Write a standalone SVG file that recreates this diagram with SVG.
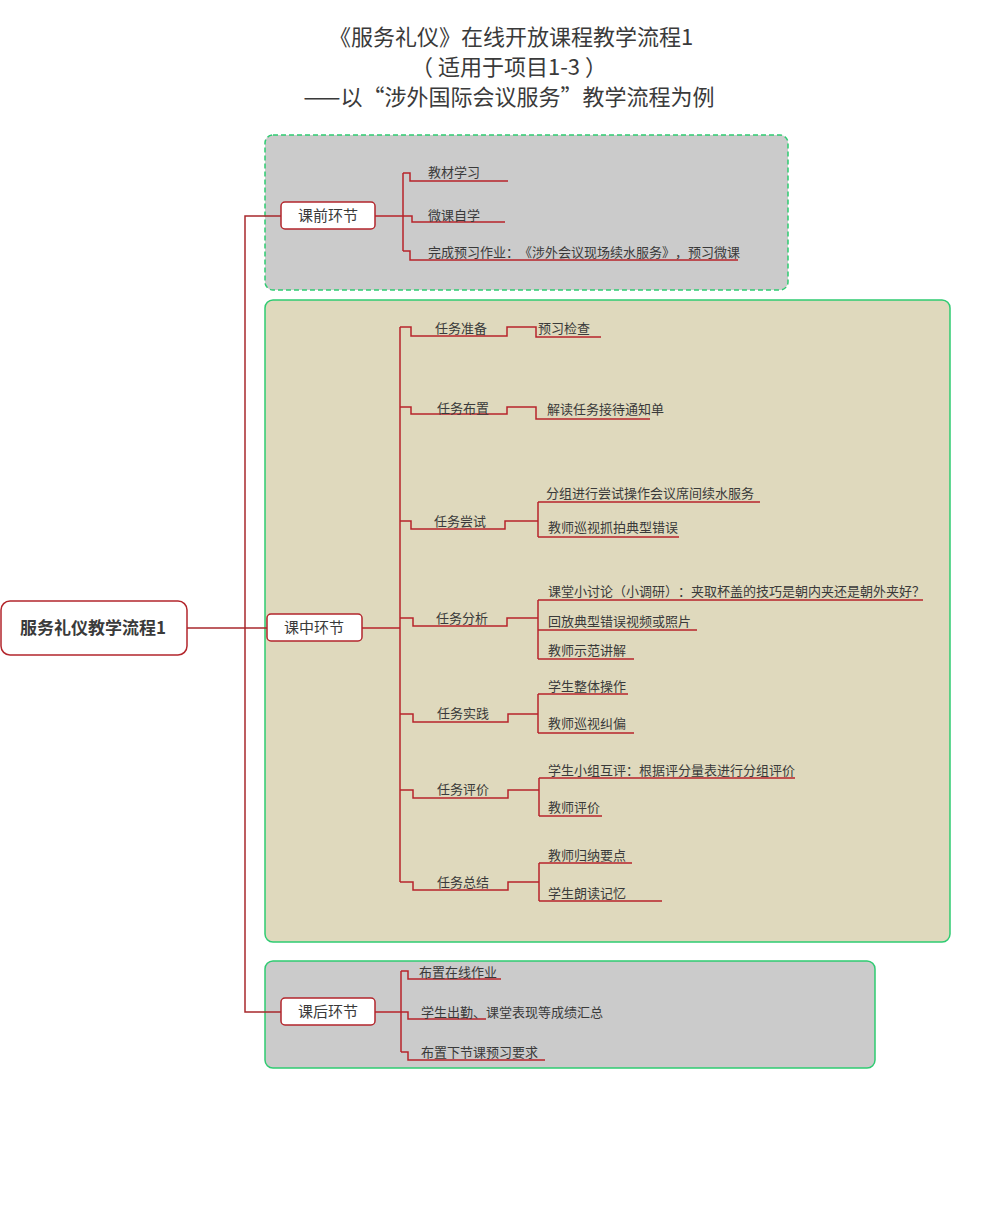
<svg xmlns="http://www.w3.org/2000/svg" width="983" height="1225" viewBox="0 0 983 1225">
<style>
text{font-family:"Noto Sans CJK SC","Microsoft YaHei",sans-serif;fill:#3a3a3a;text-spacing-trim:space-all}
.title{font-size:22px;text-anchor:middle}
.root{font-size:17px;font-weight:bold;text-anchor:middle}
.l1{font-size:15px;text-anchor:middle}
.leaf{font-size:13px}
.node{fill:#fff;stroke:#b3262c;stroke-width:1.5}
.box{stroke:#2fcb72;stroke-width:1.5}
.gray{fill:#cbcbcb}
.beige{fill:#dfd9bd}
.dash{stroke-dasharray:5,3}
.c{fill:none;stroke:#b8242b;stroke-width:1.5}
.t{fill:none;stroke:#a8282c;stroke-width:1.5}
</style>
<rect width="983" height="1225" fill="#fff"/>
<g id="title">
<text class="title" x="511" y="45">《服务礼仪》在线开放课程教学流程1</text>
<text class="title" x="509" y="75">（ 适用于项目1-3 ）</text>
<text class="title" x="509" y="105">——以“涉外国际会议服务”教学流程为例</text>
</g>
<g id="boundaries">
<rect class="box gray dash" x="265" y="135" width="523" height="155" rx="8"/>
<rect class="box beige" x="265" y="300" width="685" height="642" rx="8"/>
<rect class="box gray" x="265" y="961" width="610" height="107" rx="8"/>
</g>
<g id="connectors">
<path class="t" d="M187,628 H267"/>
<path class="t" d="M281,216 H245 V1012 H281"/>
<path class="c" d="M375,216 H403 M403,173 V251 M403,173 H410 V181 H508 M403,216 H412 V222 H505 M403,251 H410 V260 H738"/>
<path class="c" d="M362,628 H400 M400,327 V882"/>
<path class="c" d="M400,327 H411 V336 H507 V327 H536 V337 H601"/>
<path class="c" d="M400,407 H411 V414 H507 V407 H536 V419 H650"/>
<path class="c" d="M400,521 H411 V529 H505 V521 H538 M538,502 V537 M538,502 H760 M538,537 H679"/>
<path class="c" d="M400,618 H413 V626 H507 V618 H538 M538,600 V659 M538,600 H923 M538,630 H697 M538,659 H634"/>
<path class="c" d="M400,714 H413 V722 H508 V714 H538 M538,694 V733 M538,694 H628 M538,733 H634"/>
<path class="c" d="M400,790 H413 V798 H508 V790 H539 M539,778 V816 M539,778 H795 M539,816 H602"/>
<path class="c" d="M400,882 H413 V890 H508 V882 H539 M539,863 V901 M539,863 H632 M539,901 H662"/>
<path class="c" d="M375,1012 H401 M401,971 V1052 M401,971 H408 V979 H501 M401,1012 H408 V1019 H486 M401,1052 H408 V1060 H545"/>
</g>
<g id="root">
<rect class="node" x="1" y="601" width="186" height="54" rx="9"/>
<text class="root" x="93" y="634">服务礼仪教学流程1</text>
</g>
<g id="pre">
<rect class="node" x="281" y="202" width="94" height="27" rx="4"/>
<text class="l1" x="328" y="221">课前环节</text>
</g>
<g id="pre-1"><text class="leaf" x="428" y="177">教材学习</text></g>
<g id="pre-2"><text class="leaf" x="428" y="220">微课自学</text></g>
<g id="pre-3"><text class="leaf" x="428" y="257">完成预习作业：《涉外会议现场续水服务》，预习微课</text></g>
<g id="mid">
<rect class="node" x="267" y="614" width="95" height="27" rx="4"/>
<text class="l1" x="314" y="633">课中环节</text>
</g>
<g id="task1"><text class="leaf" x="435" y="333">任务准备</text></g>
<g id="task1-1"><text class="leaf" x="538" y="333">预习检查</text></g>
<g id="task2"><text class="leaf" x="437" y="413">任务布置</text></g>
<g id="task2-1"><text class="leaf" x="547" y="414">解读任务接待通知单</text></g>
<g id="task3"><text class="leaf" x="434" y="526">任务尝试</text></g>
<g id="task3-1"><text class="leaf" x="546" y="498">分组进行尝试操作会议席间续水服务</text></g>
<g id="task3-2"><text class="leaf" x="548" y="532">教师巡视抓拍典型错误</text></g>
<g id="task4"><text class="leaf" x="436" y="623">任务分析</text></g>
<g id="task4-1"><text class="leaf" x="548" y="596">课堂小讨论（小调研）：夹取杯盖的技巧是朝内夹还是朝外夹好？</text></g>
<g id="task4-2"><text class="leaf" x="548" y="626">回放典型错误视频或照片</text></g>
<g id="task4-3"><text class="leaf" x="548" y="655">教师示范讲解</text></g>
<g id="task5"><text class="leaf" x="437" y="718">任务实践</text></g>
<g id="task5-1"><text class="leaf" x="548" y="691">学生整体操作</text></g>
<g id="task5-2"><text class="leaf" x="548" y="728">教师巡视纠偏</text></g>
<g id="task6"><text class="leaf" x="437" y="794">任务评价</text></g>
<g id="task6-1"><text class="leaf" x="548" y="775">学生小组互评：根据评分量表进行分组评价</text></g>
<g id="task6-2"><text class="leaf" x="548" y="812">教师评价</text></g>
<g id="task7"><text class="leaf" x="437" y="887">任务总结</text></g>
<g id="task7-1"><text class="leaf" x="548" y="860">教师归纳要点</text></g>
<g id="task7-2"><text class="leaf" x="548" y="898">学生朗读记忆</text></g>
<g id="post">
<rect class="node" x="281" y="998" width="94" height="27" rx="4"/>
<text class="l1" x="328" y="1017">课后环节</text>
</g>
<g id="post-1"><text class="leaf" x="419" y="977">布置在线作业</text></g>
<g id="post-2"><text class="leaf" x="421" y="1017">学生出勤、课堂表现等成绩汇总</text></g>
<g id="post-3"><text class="leaf" x="421" y="1057">布置下节课预习要求</text></g>
</svg>
